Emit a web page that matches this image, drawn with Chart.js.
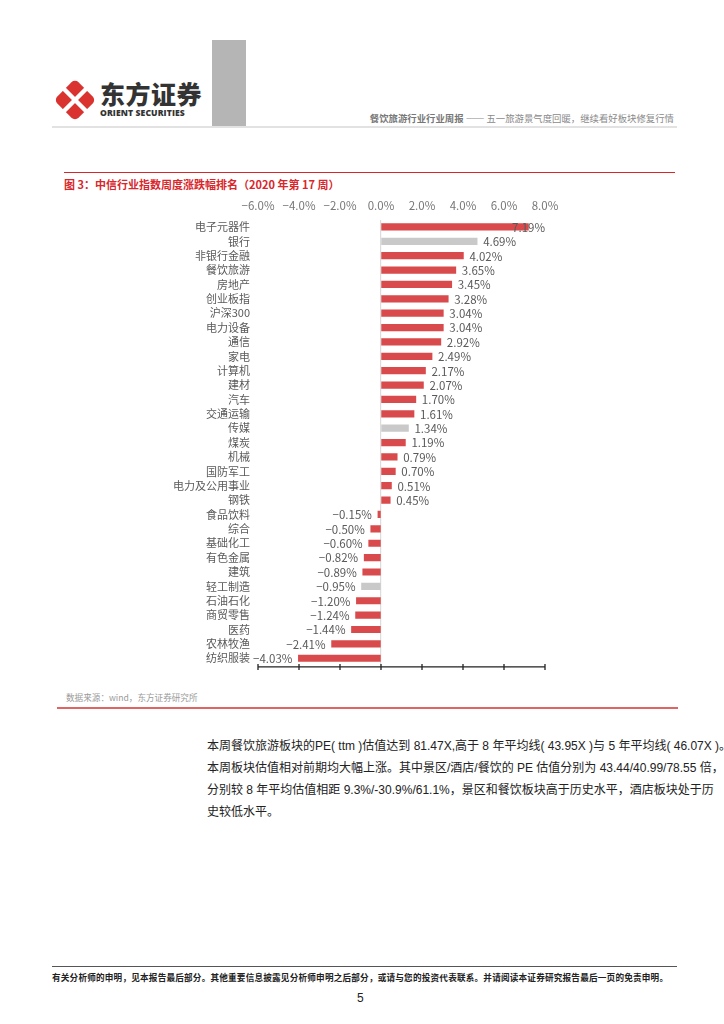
<!DOCTYPE html>
<html lang="zh-CN">
<head>
<meta charset="UTF-8">
<title>中信行业指数周度涨跌幅排名</title>
<script src="https://cdn.jsdelivr.net/npm/chart.js"></script>
<style>
    body {
        margin: 0;
        width: 724px;
        height: 1024px;
        position: relative;
        background: #fff;
        font-family: "Noto Sans CJK SC", "Noto Sans", sans-serif;
        overflow: hidden;
    }

    .abs { position: absolute; }

    #logo-cn {
        left: 100px; top: 78px;
        font-size: 25px; font-weight: 900; color: #333;
        letter-spacing: 0.5px; line-height: 30px;
    }

    #logo-en {
        left: 100px; top: 107px;
        font-family: "Open Sans", sans-serif;
        font-size: 8.6px; font-weight: 800; color: #333;
        line-height: 12px; letter-spacing: 0.1px;
    }

    #gray-bar { left: 212px; top: 40px; width: 34px; height: 86px; background: #b5b5b5; }
    #head-line { left: 52px; top: 126px; width: 625px; height: 2px; background: #e2e2e2; }
    #head-text {
        right: 50px; top: 111px;
        font-size: 9.4px; color: #8a8a8a; line-height: 14px; white-space: nowrap;
    }
    #head-text b { font-weight: 700; color: #777; }

    #title-line { left: 64px; top: 172px; width: 611px; height: 1px; background: #d9262b; }
    #title {
        left: 64px; top: 176px;
        font-size: 11px; font-weight: 700; color: #d9262b; line-height: 16px; white-space: nowrap;
    }

    #chart-box { left: 0; top: 190px; width: 724px; height: 490px; }

    #source {
        left: 66px; top: 690px;
        font-size: 8.6px; color: #9a9a9a; line-height: 14px;
    }
    #src-line { left: 57px; top: 707px; width: 621px; height: 2px; background: #e06464; }

    #para {
        left: 207px; top: 735px; width: 470px;
        font-family: "Liberation Sans", "Noto Sans CJK SC", sans-serif;
        font-size: 12px; color: #222; line-height: 22px;
    }
    #para div { text-align: justify; text-align-last: justify; white-space: nowrap; }
    #para div.last { text-align-last: left; }

    #foot-line { left: 52px; top: 966px; width: 625px; height: 1px; background: #555; }
    #foot-text {
        left: 52px; top: 970px; width: 616px;
        font-size: 8.6px; font-weight: 700; color: #222; line-height: 14px;
        text-align: justify; text-align-last: justify; white-space: nowrap;
    }
    #page-no {
        left: 357px; top: 991px;
        font-family: "Liberation Sans", sans-serif;
        font-size: 12px; color: #222;
    }
</style>
</head>
<body>

<!-- logo -->
<svg class="abs" style="left:53px;top:78px" width="44" height="44" viewBox="0 0 44 44">
    <g transform="translate(22,22) rotate(45)">
        <rect x="-15" y="-15" width="30" height="30" rx="5" fill="#d9322f"/>
    </g>
    <line x1="8" y1="8" x2="36" y2="36" stroke="#fff" stroke-width="4.5"/>
    <line x1="36" y1="8" x2="8" y2="36" stroke="#fff" stroke-width="4.5"/>
</svg>
<div id="logo-cn" class="abs">东方证券</div>
<div id="logo-en" class="abs">ORIENT SECURITIES</div>

<div id="gray-bar" class="abs"></div>
<div id="head-text" class="abs"><b>餐饮旅游行业行业周报</b> —— 五一旅游景气度回暖，继续看好板块修复行情</div>
<div id="head-line" class="abs"></div>

<div id="title-line" class="abs"></div>
<div id="title" class="abs">图 3：中信行业指数周度涨跌幅排名（2020 年第 17 周）</div>

<div id="chart-box" class="abs"><canvas id="rankChart"></canvas></div>

<div id="source" class="abs">数据来源：wind，东方证券研究所</div>
<div id="src-line" class="abs"></div>

<div id="para" class="abs">
    <div>本周餐饮旅游板块的PE( ttm )估值达到 81.47X,高于 8 年平均线( 43.95X )与 5 年平均线( 46.07X )。</div>
    <div>本周板块估值相对前期均大幅上涨。其中景区/酒店/餐饮的 PE 估值分别为 43.44/40.99/78.55 倍，</div>
    <div>分别较 8 年平均估值相距 9.3%/-30.9%/61.1%，景区和餐饮板块高于历史水平，酒店板块处于历</div>
    <div class="last">史较低水平。</div>
</div>

<div id="foot-line" class="abs"></div>
<div id="foot-text" class="abs">有关分析师的申明，见本报告最后部分。其他重要信息披露见分析师申明之后部分，或请与您的投资代表联系。并请阅读本证券研究报告最后一页的免责申明。</div>
<div id="page-no" class="abs">5</div>

<script>
    const industries = ["电子元器件", "银行", "非银行金融", "餐饮旅游", "房地产", "创业板指", "沪深300", "电力设备",
        "通信", "家电", "计算机", "建材", "汽车", "交通运输", "传媒", "煤炭", "机械", "国防军工", "电力及公用事业",
        "钢铁", "食品饮料", "综合", "基础化工", "有色金属", "建筑", "轻工制造", "石油石化", "商贸零售", "医药",
        "农林牧渔", "纺织服装"];
    const weeklyChange = [7.19, 4.69, 4.02, 3.65, 3.45, 3.28, 3.04, 3.04, 2.92, 2.49, 2.17, 2.07, 1.70, 1.61,
        1.34, 1.19, 0.79, 0.70, 0.51, 0.45, -0.15, -0.50, -0.60, -0.82, -0.89, -0.95, -1.20, -1.24, -1.44,
        -2.41, -4.03];
    // rows drawn in gray instead of red
    const grayRows = ["银行", "传媒", "轻工制造"];
    const axisTicks = [-6, -4, -2, 0, 2, 4, 6, 8];

    const RED = "#d84a4b";
    const GRAY = "#c9c9c9";
    const TXT = "#5a5a5a";
    const NUM_FONT = "11.5px 'Noto Sans CJK SC', sans-serif";

    function pct(v, digits) {
        const s = Math.abs(v).toFixed(digits) + "%";
        return v < 0 ? "\u2212" + s : s;
    }

    // value labels next to each bar
    const barLabels = {
        id: "barLabels",
        afterDatasetsDraw(chart) {
            const { ctx, chartArea } = chart;
            const meta = chart.getDatasetMeta(0);
            ctx.save();
            ctx.font = NUM_FONT;
            ctx.fillStyle = TXT;
            ctx.textBaseline = "middle";
            meta.data.forEach((bar, i) => {
                const v = weeklyChange[i];
                const txt = pct(v, 2);
                const w = ctx.measureText(txt).width;
                let x;
                if (v >= 0) {
                    x = bar.x + 6;
                    if (x + w > chartArea.right) x = chartArea.right - w;
                } else {
                    x = bar.x - 6 - w;
                }
                ctx.fillText(txt, x, bar.y + 0.5);
            });
            ctx.restore();
        }
    };

    // bottom axis line with tick marks crossing it
    const bottomAxis = {
        id: "bottomAxis",
        afterDraw(chart) {
            const { ctx, chartArea } = chart;
            const xs = chart.scales.x;
            const y = chartArea.bottom + 1.5;
            ctx.save();
            ctx.strokeStyle = "#222";
            ctx.lineWidth = 1.3;
            ctx.beginPath();
            ctx.moveTo(xs.getPixelForValue(axisTicks[0]), y);
            ctx.lineTo(xs.getPixelForValue(axisTicks[axisTicks.length - 1]), y);
            axisTicks.forEach(t => {
                const px = xs.getPixelForValue(t);
                ctx.moveTo(px, y - 3);
                ctx.lineTo(px, y + 3);
            });
            ctx.stroke();
            ctx.restore();
        }
    };

    const ctx = document.getElementById("rankChart").getContext("2d");
    new Chart(ctx, {
        type: "bar",
        data: {
            labels: industries,
            datasets: [{
                data: weeklyChange,
                backgroundColor: industries.map(n => grayRows.includes(n) ? GRAY : RED),
                barThickness: 6.5
            }]
        },
        options: {
            indexAxis: "y",
            responsive: true,
            maintainAspectRatio: false,
            animation: false,
            layout: { padding: { left: 0, right: 179, top: 0, bottom: 0 } },
            plugins: {
                legend: { display: false },
                tooltip: { enabled: false }
            },
            scales: {
                x: {
                    position: "top",
                    min: -6,
                    max: 8,
                    afterBuildTicks(scale) {
                        scale.ticks = axisTicks.map(v => ({ value: v }));
                    },
                    afterFit(scale) { scale.height = 29.75; },
                    border: { display: false },
                    grid: {
                        drawTicks: false,
                        color: c => (c.tick && c.tick.value === 0) ? "#dcdcdc" : "rgba(0,0,0,0)",
                        lineWidth: 1.2
                    },
                    ticks: {
                        padding: 7,
                        color: "#777",
                        font: { family: "'Noto Sans CJK SC', sans-serif", size: 11.5 },
                        callback: v => pct(v, 1)
                    }
                },
                y: {
                    afterFit(scale) { scale.width = 258; },
                    border: { display: false },
                    grid: { display: false, drawTicks: false },
                    ticks: {
                        padding: 8,
                        color: TXT,
                        autoSkip: false,
                        font: { family: "'Noto Sans CJK SC', sans-serif", size: 11 }
                    }
                }
            }
        },
        plugins: [barLabels, bottomAxis]
    });
</script>
</body>
</html>
